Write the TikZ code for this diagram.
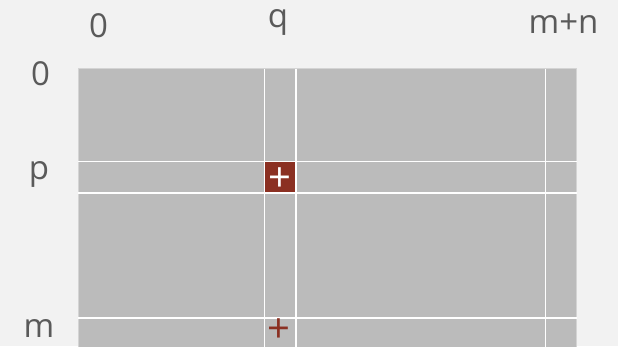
\documentclass[tikz,border=0pt]{standalone}
\usepackage{fontspec}
\setmainfont{Open Sans}
\usetikzlibrary{positioning}
\definecolor{bgpage}{HTML}{F2F2F2}
\definecolor{cellgray}{HTML}{BBBBBB}
\definecolor{rimgray}{HTML}{D4D4D4}
\definecolor{hitred}{HTML}{8B3022}
\definecolor{labelgray}{HTML}{5A5A5A}

\begin{document}
\begin{tikzpicture}[x=1pt, y=-1pt,
    idx/.style={anchor=base, text=labelgray, inner sep=0pt,
      font=\fontsize{33}{33}\selectfont},
    plusmark/.style={inner sep=0pt, text height=22pt, text depth=0pt,
      font=\fontsize{40}{40}\selectfont},
    gridline/.style={draw=white, line width=1.5pt}]
  \useasboundingbox[fill=bgpage] (0,0) rectangle (618,346);

  % the matrix area, cut off at the bottom
  \begin{scope}
    \clip (0,0) rectangle (618,346);
    \filldraw[fill=cellgray, draw=rimgray, line width=1pt] (78,68.5) rectangle (576.5,360);
    \foreach \x in {264.5, 296, 545.5}
      \draw[gridline] (\x,68.5) -- (\x,360);
    \foreach \y in {161.5, 193, 318}
      \draw[gridline] (78,\y) -- (576.5,\y);
  \end{scope}

  % the entry at (p,q)
  \fill[hitred] (265.3,162.3) rectangle (295.2,192.2);
  \node[plusmark, text=white] (pivot) at (280,180) {+};
  \node[plusmark, text=hitred] (lastrow) at (279,331) {+};

  % indices
  \node[idx] (col0) at (98.5,37) {0};
  \node[idx] (colq) at (278,27) {q};
  \node[idx] (colmn) at (563.5,33) {m+n};
  \node[idx] (row0) at (40.5,85) {0};
  \node[idx] (rowp) at (39,179) {p};
  \node[idx] (rowm) at (39,337) {m};
\end{tikzpicture}
\end{document}
